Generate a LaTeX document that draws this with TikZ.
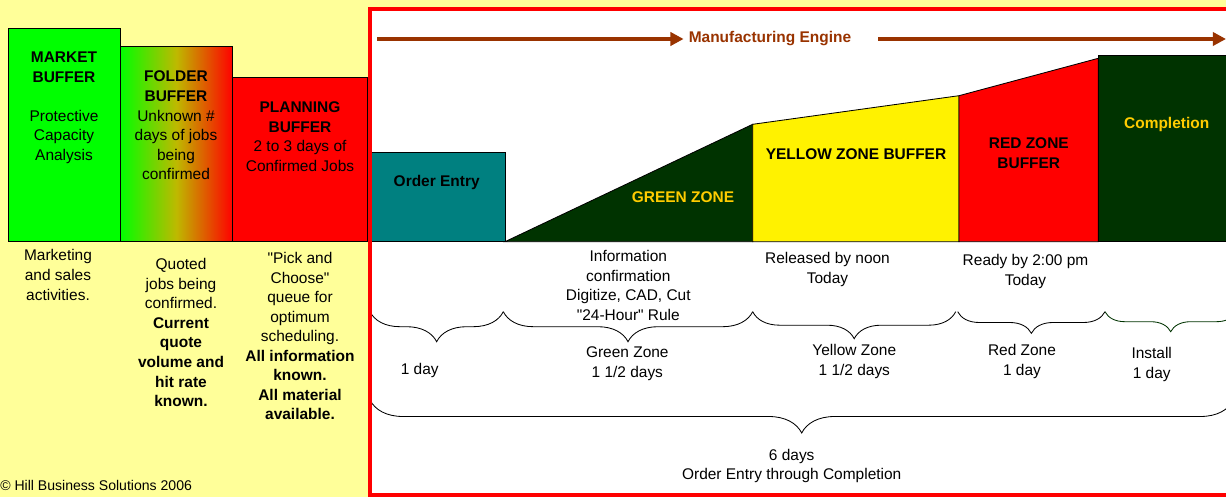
\documentclass[tikz,border=0pt]{standalone}
\usepackage{fontspec}
\setmainfont{Liberation Sans}
\usepackage{xcolor}
\usepackage{tikz}
\usetikzlibrary{arrows.meta, decorations.pathreplacing}

\definecolor{paleYellow}{RGB}{255,255,153}
\definecolor{limeGreen}{RGB}{0,255,0}
\definecolor{midOlive}{RGB}{190,185,0}
\definecolor{oeTeal}{RGB}{0,128,128}
\definecolor{zoneGreen}{RGB}{0,51,0}
\definecolor{zoneGold}{RGB}{255,204,0}
\definecolor{engineBrown}{RGB}{153,51,0}

\tikzset{
    zone/.style={draw=black, line width=0.6pt},
    note/.style={align=center, inner sep=0pt, font=\fontsize{11}{13.9}\selectfont},
    title/.style={note, font=\fontsize{11}{13.9}\selectfont\bfseries},
    dayBrace/.style={decorate, decoration={brace, mirror, amplitude=#1}, line width=0.6pt},
    dayBrace/.default=0.75cm,
    engine/.style={-{Triangle[length=0.33cm, width=0.33cm]}, line width=0.1cm, draw=engineBrown},
    frame/.style={draw=red, line width=0.1cm}
}

\begin{document}
\begin{tikzpicture}[x=0.025cm, y=-0.025cm]
    \useasboundingbox (0,0) rectangle (1226,497);
    \clip (0,0) rectangle (1226,497);
    \fill[paleYellow] (0,0) rectangle (1226,497);
    \fill[white] (369.5,9) rectangle (1226,495);

    % Buffers in front of the engine
    \filldraw[zone, fill=limeGreen] (8.3,28.3) rectangle (120,241.7); % Market
    \shadedraw[zone, left color=limeGreen, right color=red, middle color=midOlive] (120,46.7) rectangle (232.7,241.7); % Folder
    \filldraw[zone, fill=red] (232.7,77.3) rectangle (367,241.7); % Planning

    \node[note] (mktTop) at (64,107.8) {\textbf{MARKET}\\\textbf{BUFFER}\\[13.9pt]Protective\\Capacity\\Analysis};
    \node[note] (fldTop) at (176,125.5) {\textbf{FOLDER}\\\textbf{BUFFER}\\Unknown \#\\days of jobs\\being\\confirmed};
    \node[note] (plnTop) at (300,136.5) {\textbf{PLANNING}\\\textbf{BUFFER}\\2 to 3 days of\\Confirmed Jobs};

    \node[note] (mktLow) at (58,275) {Marketing\\and sales\\activities.};
    \node[note] (fldLow) at (181,332.7) {Quoted\\jobs being\\confirmed.\\\textbf{Current}\\\textbf{quote}\\\textbf{volume and}\\\textbf{hit rate}\\\textbf{known.}};
    \node[note] (plnLow) at (300,336.2) {\textquotedbl Pick and\\Choose\textquotedbl\\queue for\\optimum\\scheduling.\\\textbf{All information}\\\textbf{known.}\\\textbf{All material}\\\textbf{available.}};

    \node[note, font=\fontsize{10}{12}\selectfont, anchor=west] (copyNote) at (0,485) {© Hill Business Solutions 2006};

    % Manufacturing engine zones
    \filldraw[zone, fill=oeTeal] (370,152.7) rectangle (505,241.7); % Order entry
    \filldraw[zone, fill=zoneGreen] (505,241.7) -- (752.7,124.3) -- (752.7,241.7) -- cycle; % Green
    \filldraw[zone, fill=yellow] (752.7,241.7) -- (752.7,124.3) -- (959,95.7) -- (959,241.7) -- cycle; % Yellow
    \filldraw[zone, fill=red] (959,241.7) -- (959,95.7) -- (1098.3,58.3) -- (1098.3,241.7) -- cycle; % Red
    \filldraw[zone, fill=zoneGreen] (1232,55.7) -- (1098.3,55.7) -- (1098.3,241.7) -- (1232,241.7); % Completion

    \node[title] (oeLbl) at (436.7,182.7) {Order Entry};
    \node[title, text=zoneGold] (greenLbl) at (683,196.7) {GREEN ZONE};
    \node[title] (yellowLbl) at (856,154.3) {YELLOW ZONE BUFFER};
    \node[title] (redLbl) at (1028.8,153.3) {RED ZONE\\BUFFER};
    \node[title, text=zoneGold] (doneLbl) at (1166.7,124.3) {Completion};

    % Engine arrow
    \node[title, text=engineBrown, inner sep=3.5pt] (mfg) at (770,39) {Manufacturing Engine};
    \coordinate (mfgStart) at (377,39);
    \coordinate (mfgEnd) at (1226,39);
    \draw[engine] (mfgStart) -- (mfg.west);
    \draw[engine] ([xshift=0.55cm]mfg.east) -- (mfgEnd);

    % Notes over the braces
    \node[note] (infoNote) at (628.3,285.5) {Information\\confirmation\\Digitize, CAD, Cut\\\textquotedbl 24-Hour\textquotedbl\ Rule};
    \node[note] (releaseNote) at (827.5,269.7) {Released by noon\\Today};
    \node[note] (readyNote) at (1025.5,271.7) {Ready by 2:00 pm\\Today};

    % Day braces
    \draw[dayBrace] (370,311.7) -- (503.3,311.7);
    \draw[dayBrace] (503.3,311.7) -- (752.7,311.7);
    \draw[dayBrace=0.675cm] (752.7,311.7) -- (955.7,311.7);
    \draw[dayBrace=0.54cm] (957.7,311.7) -- (1105,311.7);
    \draw[dayBrace=0.5cm, zoneGreen] (1105,311.7) -- (1236.4,311.7);
    \draw[dayBrace=0.825cm] (370,400) -- (1233.4,400);

    \node[note] (oeDays) at (419.7,371) {1 day};
    \node[note] (greenDays) at (627.3,363.5) {Green Zone\\1 1/2 days};
    \node[note] (yellowDays) at (854.3,361.7) {Yellow Zone\\1 1/2 days};
    \node[note] (redDays) at (1022,361.7) {Red Zone\\1 day};
    \node[note] (installDays) at (1151.7,364.7) {Install\\1 day};
    \node[note] (totalDays) at (791.7,466) {6 days\\Order Entry through Completion};

    % Frame round the engine
    \draw[frame] (1226,9) -- (369.5,9) -- (369.5,495) -- (1226,495);
\end{tikzpicture}
\end{document}
